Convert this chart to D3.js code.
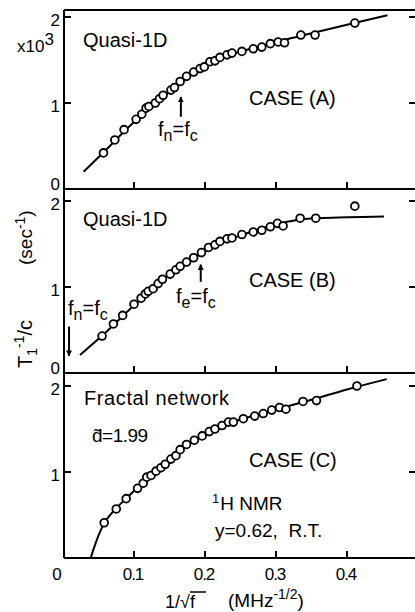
<!DOCTYPE html>
<html>
<head>
<meta charset="utf-8">
<script src="https://cdn.jsdelivr.net/npm/d3@7"></script>
<style>
  body { margin: 0; background: white; }
  text { font-family: "Liberation Sans", Arial, sans-serif; fill: black; }
</style>
</head>
<body>
<div id="chart"></div>
<script>
// measured points, x = 1/sqrt(f) (MHz^-1/2), y = T1^-1/c (x10^3 sec^-1)
let xA = [0.057,0.073,0.086,0.103,0.111,0.117,0.121,0.130,0.136,0.141,0.152,0.157,0.165,0.174,0.184,0.193,0.199,0.207,0.214,0.221,0.231,0.238,0.252,0.268,0.280,0.292,0.303,0.312,0.335,0.355,0.411];
let yA = [0.42,0.57,0.69,0.81,0.87,0.94,0.96,1.00,1.05,1.09,1.15,1.18,1.25,1.31,1.36,1.40,1.42,1.48,1.49,1.53,1.56,1.58,1.60,1.63,1.65,1.69,1.71,1.70,1.79,1.79,1.93];
let xB = [0.055,0.071,0.084,0.100,0.110,0.116,0.120,0.127,0.134,0.140,0.151,0.159,0.165,0.174,0.184,0.195,0.205,0.214,0.221,0.231,0.238,0.252,0.268,0.280,0.292,0.302,0.310,0.334,0.356,0.411];
let yB = [0.43,0.57,0.67,0.80,0.87,0.92,0.95,0.98,1.04,1.09,1.15,1.20,1.24,1.29,1.34,1.40,1.46,1.49,1.53,1.56,1.57,1.61,1.64,1.66,1.70,1.74,1.71,1.80,1.80,1.94];
let xC = [0.058,0.075,0.089,0.105,0.113,0.118,0.124,0.131,0.138,0.144,0.152,0.159,0.165,0.174,0.185,0.196,0.206,0.214,0.224,0.233,0.240,0.254,0.270,0.282,0.294,0.305,0.314,0.338,0.357,0.414];
let yC = [0.41,0.57,0.69,0.81,0.87,0.94,0.96,1.01,1.05,1.09,1.15,1.19,1.26,1.32,1.37,1.42,1.47,1.50,1.54,1.58,1.58,1.62,1.65,1.68,1.72,1.75,1.73,1.82,1.83,2.00];

// fitted curves
let curveA = [[0.029,0.20],[0.06,0.45],[0.09,0.70],[0.12,0.93],[0.15,1.14],[0.175,1.30],[0.20,1.43],[0.225,1.53],[0.25,1.60],[0.28,1.66],[0.31,1.73],[0.35,1.81],[0.40,1.91],[0.457,2.02]];
let curveB = [[0.024,0.21],[0.06,0.47],[0.09,0.71],[0.12,0.93],[0.15,1.14],[0.175,1.29],[0.20,1.41],[0.225,1.52],[0.25,1.60],[0.28,1.68],[0.30,1.73],[0.33,1.78],[0.36,1.80],[0.40,1.81],[0.452,1.82]];
let curveC = [[0.039,0.0],[0.045,0.15],[0.052,0.30],[0.06,0.43],[0.075,0.58],[0.09,0.70],[0.11,0.86],[0.13,1.00],[0.15,1.13],[0.175,1.31],[0.20,1.43],[0.225,1.54],[0.25,1.61],[0.28,1.68],[0.31,1.75],[0.35,1.84],[0.40,1.96],[0.456,2.08]];

let xTicks = [0.1, 0.2, 0.3, 0.4];
let xTickLabels = ["0.1", "0.2", "0.3", "0.4"];
let yTicks = [1, 2];
let caseLabels = ["CASE (A)", "CASE (B)", "CASE (C)"];

let w = 415
let h = 612
let left = 64
let right = 415

let svg = d3.select("#chart")
  .append("svg")
    .attr("width", w)
    .attr("height", h)
;

let x = d3.scaleLinear().domain([0, 0.5]).range([63, 418]);

let panels = [
  {top: 10, zero: 189, xs: xA, ys: yA, curve: curveA},
  {top: 189, zero: 373, xs: xB, ys: yB, curve: curveB},
  {top: 373, zero: 558, xs: xC, ys: yC, curve: curveC}
];

panels.forEach(function(p, k){
  let y = d3.scaleLinear().domain([0, 2]).range([p.zero, p.zero - 172]);
  p.y = y;
  let g = svg.append("g");

  // frame lines
  g.append("line").attr("x1", left).attr("x2", right).attr("y1", p.top).attr("y2", p.top)
    .attr("stroke", "black").attr("stroke-width", 2);
  g.append("line").attr("x1", left).attr("x2", right).attr("y1", p.zero).attr("y2", p.zero)
    .attr("stroke", "black").attr("stroke-width", 2);
  g.append("line").attr("x1", left).attr("x2", left).attr("y1", p.top).attr("y2", p.zero)
    .attr("stroke", "black").attr("stroke-width", 2);

  // x ticks pointing up
  g.selectAll(".xt").data(xTicks).enter().append("line")
    .attr("x1", d => x(d)).attr("x2", d => x(d))
    .attr("y1", p.zero).attr("y2", p.zero - 7)
    .attr("stroke", "black").attr("stroke-width", 2);

  // y ticks left and right, inward
  g.selectAll(".yl").data(yTicks).enter().append("line")
    .attr("x1", left).attr("x2", left + 7)
    .attr("y1", d => y(d)).attr("y2", d => y(d))
    .attr("stroke", "black").attr("stroke-width", 2);
  g.selectAll(".yr").data(yTicks).enter().append("line")
    .attr("x1", right - 6).attr("x2", right)
    .attr("y1", d => y(d)).attr("y2", d => y(d))
    .attr("stroke", "black").attr("stroke-width", 2);

  // y tick labels
  let labs = k < 2 ? [0, 1, 2] : [1, 2];
  g.selectAll(".ylab").data(labs).enter().append("text")
    .text(d => d)
    .attr("x", 60)
    .attr("y", d => d == 0 ? y(d) + 0.5 : y(d) + 8.5)
    .attr("text-anchor", "end")
    .attr("font-size", 17);

  // fitted curve
  let line = d3.line()
    .x(d => x(d[0]))
    .y(d => y(d[1]))
    .curve(d3.curveCatmullRom);
  g.append("path")
    .attr("d", line(p.curve))
    .attr("fill", "none")
    .attr("stroke", "black")
    .attr("stroke-width", 2);

  // data circles
  g.selectAll("circle").data(p.xs).enter().append("circle")
    .attr("cx", d => x(d))
    .attr("cy", (d, i) => y(p.ys[i]))
    .attr("r", 3.9)
    .attr("fill", "white")
    .attr("stroke", "black")
    .attr("stroke-width", 1.8);

  g.append("text")
    .text(caseLabels[k])
    .attr("x", 249)
    .attr("y", [105, 287, 467][k])
    .attr("font-size", 20);
});

// x tick labels at bottom
let yBot = 580;
svg.selectAll(".xlab").data(xTickLabels).enter().append("text")
  .text(d => d)
  .attr("x", (d, i) => x(xTicks[i]) - 1)
  .attr("y", yBot)
  .attr("text-anchor", "middle")
  .attr("font-size", 17)
  .attr("letter-spacing", -1);
svg.append("text").text("0").attr("x", 57).attr("y", yBot)
  .attr("text-anchor", "middle").attr("font-size", 17);

// x10^3
let mult = svg.append("text").attr("x", 17).attr("y", 52).attr("font-size", 17);
mult.append("tspan").text("x10");
mult.append("tspan").text("3").attr("dy", -7).attr("font-size", 17);

// panel titles
svg.append("text").text("Quasi-1D").attr("x", 83).attr("y", 47).attr("font-size", 20);
svg.append("text").text("Quasi-1D").attr("x", 83).attr("y", 226).attr("font-size", 20);
svg.append("text").text("Fractal network").attr("x", 84).attr("y", 405).attr("font-size", 20).attr("letter-spacing", 0.6);

// d tilde = 1.99
svg.append("text").text("d\u0303=1.99").attr("x", 92).attr("y", 442).attr("font-size", 19).attr("letter-spacing", -0.5);

// 1H NMR and conditions
let nmr = svg.append("text").attr("x", 212).attr("y", 510).attr("font-size", 19);
nmr.append("tspan").text("1").attr("font-size", 13).attr("dy", -7);
nmr.append("tspan").text("H NMR").attr("dy", 7).attr("dx", 1);
svg.append("text").text("y=0.62,  R.T.").attr("x", 215).attr("y", 537).attr("font-size", 19)
  .style("white-space", "pre");

// f_n = f_c style labels
function subLabel(px, py, sub){
  let t = svg.append("text").attr("x", px).attr("y", py).attr("font-size", 20);
  t.append("tspan").text("f");
  t.append("tspan").text(sub[0]).attr("font-size", 16).attr("dy", 5);
  t.append("tspan").text("=f").attr("dy", -5);
  t.append("tspan").text(sub[1]).attr("font-size", 16).attr("dy", 5);
}
subLabel(158, 136, ["n", "c"]);
subLabel(176, 303, ["e", "c"]);
subLabel(68, 315, ["n", "c"]);

// arrows
svg.append("defs").append("marker")
  .attr("id", "head")
  .attr("viewBox", "0 0 10 10")
  .attr("refX", 9).attr("refY", 5)
  .attr("markerWidth", 3).attr("markerHeight", 3)
  .attr("orient", "auto")
  .append("path").attr("d", "M0,0 L10,5 L0,10 z").attr("fill", "black");

let arrows = [
  {p: 0, xv: 0.166, y1: 0.84, y2: 1.07},
  {p: 1, xv: 0.194, y1: 1.06, y2: 1.26},
  {p: 1, xv: 0.0085, y1: 0.54, y2: 0.20}
];
arrows.forEach(function(a){
  let y = panels[a.p].y;
  svg.append("line")
    .attr("x1", x(a.xv)).attr("x2", x(a.xv))
    .attr("y1", y(a.y1)).attr("y2", y(a.y2))
    .attr("stroke", "black").attr("stroke-width", 2)
    .attr("marker-end", "url(#head)");
});

// y axis title
let yt = svg.append("text").attr("transform", "translate(32,368) rotate(-90)").attr("font-size", 20);
yt.append("tspan").text("T");
yt.append("tspan").text("1").attr("font-size", 14).attr("dy", 5);
yt.append("tspan").text("-1").attr("font-size", 14).attr("dy", -13);
yt.append("tspan").text("/c").attr("dy", 8);
let yt2 = svg.append("text").attr("transform", "translate(32,265) rotate(-90)").attr("font-size", 19);
yt2.append("tspan").text("(sec");
yt2.append("tspan").text("-1").attr("font-size", 14).attr("dy", -7);
yt2.append("tspan").text(")").attr("dy", 7);

// x axis title
let xt = svg.append("text").attr("x", 165).attr("y", 608).attr("font-size", 18);
xt.append("tspan").text("1/√f");
svg.append("line").attr("x1", 190).attr("x2", 206).attr("y1", 592).attr("y2", 592)
  .attr("stroke", "black").attr("stroke-width", 1.5);
let xu = svg.append("text").attr("x", 228).attr("y", 607).attr("font-size", 19);
xu.append("tspan").text("(MHz");
xu.append("tspan").text("-1/2").attr("font-size", 14).attr("dy", -8);
xu.append("tspan").text(")").attr("dy", 8);
</script>
</body>
</html>
